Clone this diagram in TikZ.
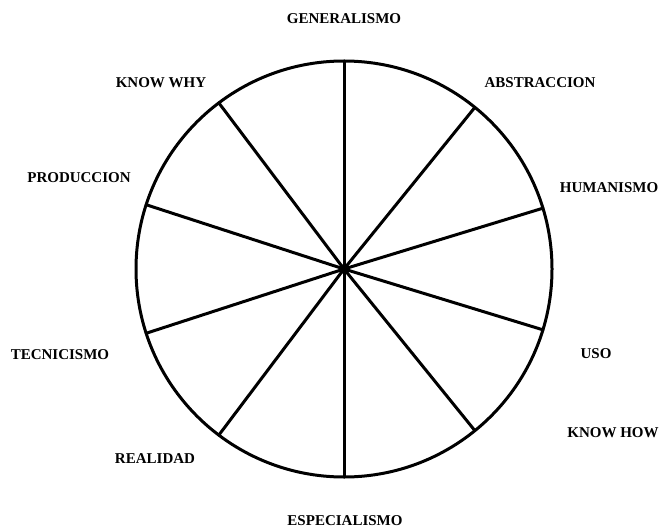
\documentclass[tikz,border=0pt]{standalone}
\usepackage{fontspec}
\setmainfont{Liberation Serif}
\begin{document}
\begin{tikzpicture}[x=1pt,y=1pt,
  lbl/.style={inner sep=0pt, font=\fontsize{15}{15}\selectfont\bfseries},
  spoke/.style={line width=3pt, line cap=round},
  wheel/.style={circle, draw, line width=3pt, minimum size=416pt, inner sep=0pt, outer sep=0pt}]
\useasboundingbox (0,-529) rectangle (660,0);
\node[wheel] (w) at (344,-269) {};
\coordinate (c) at (w.center);
\foreach \a in {90,51.5,17.5,-17.6,-51.6,-90,-127.5,-162,162.6,127.5}
  \draw[spoke] (c) -- (w.\a);
\fill (c) circle (5pt);
\node[lbl] (gen) at (344,-19) {GENERALISMO};
\node[lbl] (kwhy) at (161,-83) {KNOW WHY};
\node[lbl] (abs) at (540,-83) {ABSTRACCION};
\node[lbl] (prod) at (79,-178) {PRODUCCION};
\node[lbl] (hum) at (609,-188) {HUMANISMO};
\node[lbl] (tec) at (60,-355) {TECNICISMO};
\node[lbl] (uso) at (596,-354) {USO};
\node[lbl] (khow) at (613,-433) {KNOW HOW};
\node[lbl] (real) at (155,-459) {REALIDAD};
\node[lbl] (esp) at (345,-521) {ESPECIALISMO};
\end{tikzpicture}
\end{document}
